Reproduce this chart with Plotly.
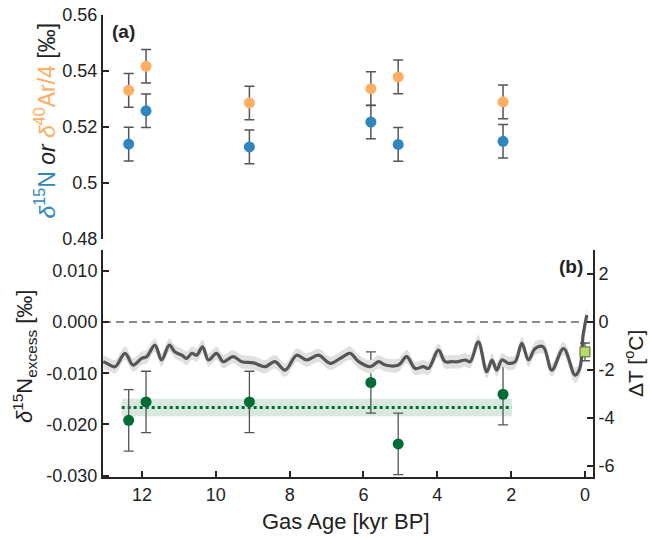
import plotly.graph_objects as go

# ---- data ----
gas_age = [12.36, 11.89, 9.09, 5.80, 5.06, 2.22]
d15N = [0.5139, 0.5258, 0.5129, 0.5218, 0.5138, 0.5149]
d15N_err = [0.006, 0.006, 0.006, 0.006, 0.006, 0.006]
d40Ar4 = [0.5331, 0.5417, 0.5286, 0.5337, 0.5379, 0.5290]
d40Ar4_err = [0.006, 0.006, 0.006, 0.006, 0.006, 0.006]

excess = [-0.0192, -0.0156, -0.0156, -0.0118, -0.0238, -0.0141]
excess_err = [0.006, 0.006, 0.006, 0.006, 0.006, 0.006]

mean_age = [12.55, 1.98]
mean_excess = [-0.0167, -0.0167]
mean_upper = [-0.0150, -0.0150]
mean_lower = [-0.0184, -0.0184]

dT_age = [13.05, 12.95, 12.73, 12.46, 12.24, 12.01, 11.87, 11.65, 11.47, 11.26, 11.11,
          10.92, 10.79, 10.65, 10.52, 10.36, 10.20, 9.98, 9.80, 9.53, 9.30, 8.98, 8.67,
          8.40, 8.12, 7.81, 7.54, 7.22, 6.90, 6.63, 6.49, 6.36, 6.13, 5.81, 5.59, 5.41,
          5.05, 4.83, 4.60, 4.38, 4.24, 3.97, 3.79, 3.61, 3.43, 3.25, 3.11, 2.89, 2.66,
          2.52, 2.39, 2.25, 2.07, 1.89, 1.71, 1.53, 1.35, 1.13, 0.90, 0.58, 0.27, 0.14,
          0.05, -0.05]
dT = [-1.65, -1.72, -1.86, -1.30, -1.79, -1.51, -1.44, -0.96, -1.58, -0.96, -1.24,
      -1.38, -1.51, -1.30, -1.38, -1.03, -1.58, -1.30, -1.65, -1.44, -1.65, -1.70, -1.86,
      -1.65, -2.00, -1.38, -1.58, -1.38, -1.72, -1.51, -1.38, -1.30, -1.65, -1.86, -1.65,
      -1.79, -1.79, -1.44, -1.93, -1.86, -1.93, -1.17, -1.65, -1.65, -1.65, -1.58, -1.65,
      -0.82, -2.07, -1.58, -2.00, -1.58, -1.72, -1.65, -0.89, -1.58, -1.10, -1.03, -2.00,
      -1.10, -2.21, -1.93, -0.54, 0.29]
dT_sigma = [0.28, 0.28, 0.28, 0.28, 0.28, 0.28, 0.28, 0.28, 0.28, 0.28, 0.28,
            0.28, 0.28, 0.28, 0.28, 0.28, 0.28, 0.28, 0.28, 0.28, 0.28, 0.28, 0.28,
            0.28, 0.28, 0.28, 0.28, 0.28, 0.28, 0.28, 0.28, 0.28, 0.28, 0.28, 0.28,
            0.28, 0.28, 0.28, 0.28, 0.28, 0.28, 0.28, 0.28, 0.28, 0.28, 0.28, 0.28,
            0.28, 0.28, 0.28, 0.28, 0.28, 0.28, 0.28, 0.28, 0.28, 0.28, 0.28, 0.28,
            0.28, 0.32, 0.32, 0.32, 0.32]

modern_age = [0.0]
modern_dT = [-1.24]
modern_err = [0.37]

top_ticks = [0.48, 0.50, 0.52, 0.54, 0.56]
top_ticktext = ["0.48", "0.5", "0.52", "0.54", "0.56"]
exc_ticks = [-0.03, -0.02, -0.01, 0.0, 0.01]
exc_ticktext = ["-0.030", "-0.020", "-0.010", "0.000", "0.010"]
dT_ticks = [-6, -4, -2, 0, 2]
dT_ticktext = ["-6", "-4", "-2", "0", "2"]
age_ticks = [12, 10, 8, 6, 4, 2, 0]

BLUE = "#2e86c1"
ORANGE = "#fdae61"
GREEN = "#006d32"
AXC = "#262626"
TXT = "#222222"
FONT = "Liberation Sans"

fig = go.Figure()

# top panel
fig.add_trace(go.Scatter(x=gas_age, y=d15N, mode="markers", xaxis="x2", yaxis="y2",
                         marker=dict(color=BLUE, size=11),
                         error_y=dict(type="data", array=d15N_err, color="#555555",
                                      thickness=1.5, width=5)))
fig.add_trace(go.Scatter(x=gas_age, y=d40Ar4, mode="markers", xaxis="x2", yaxis="y2",
                         marker=dict(color=ORANGE, size=11),
                         error_y=dict(type="data", array=d40Ar4_err, color="#555555",
                                      thickness=1.5, width=5)))

# bottom panel: temperature band and line (right axis)
dT_up = [v + s for v, s in zip(dT, dT_sigma)]
dT_lo = [v - s for v, s in zip(dT, dT_sigma)]
fig.add_trace(go.Scatter(x=dT_age, y=dT_up, mode="lines", yaxis="y3",
                         line=dict(width=0, color="#dcdcdc", shape="spline"),
                         hoverinfo="skip"))
fig.add_trace(go.Scatter(x=dT_age, y=dT_lo, mode="lines", yaxis="y3", fill="tonexty",
                         fillcolor="#e0e0e0",
                         line=dict(width=0, color="#dcdcdc", shape="spline"),
                         hoverinfo="skip"))
fig.add_trace(go.Scatter(x=dT_age, y=dT, mode="lines", yaxis="y3",
                         line=dict(color="#555555", width=3.2, shape="spline")))

# mean excess band
fig.add_trace(go.Scatter(x=mean_age, y=mean_upper, mode="lines", xaxis="x", yaxis="y",
                         line=dict(width=0), hoverinfo="skip"))
fig.add_trace(go.Scatter(x=mean_age, y=mean_lower, mode="lines", xaxis="x", yaxis="y",
                         fill="tonexty", fillcolor="rgba(0,109,50,0.15)",
                         line=dict(width=0), hoverinfo="skip"))
fig.add_trace(go.Scatter(x=mean_age, y=mean_excess, mode="lines", xaxis="x", yaxis="y",
                         line=dict(color=GREEN, width=3, dash="dot")))

# excess points
fig.add_trace(go.Scatter(x=gas_age, y=excess, mode="markers", xaxis="x", yaxis="y",
                         marker=dict(color=GREEN, size=11),
                         error_y=dict(type="data", array=excess_err, color="#555555",
                                      thickness=1.3, width=5)))

# modern temperature square
fig.add_trace(go.Scatter(x=modern_age, y=modern_dT, mode="markers", yaxis="y3",
                         marker=dict(color="#b5dc6b", size=10, symbol="square",
                                     line=dict(color="#556b2f", width=1)),
                         error_y=dict(type="data", array=modern_err, color="#555555",
                                      thickness=1.3, width=5)))

axis_common = dict(showgrid=False, zeroline=False, showline=True, linecolor=AXC,
                   linewidth=2, ticks="inside", ticklen=6, tickwidth=1.5, tickcolor=AXC,
                   automargin=False,
                   tickfont=dict(family=FONT, size=18, color=TXT))

TFONT = dict(family=FONT, size=22, color=TXT)

fig.update_layout(
    width=650, height=538,
    margin=dict(l=103, r=57, t=15, b=61),
    paper_bgcolor="white", plot_bgcolor="white",
    showlegend=False,
    font=dict(family=FONT, size=18, color=TXT),
    xaxis=dict(domain=[0, 1], anchor="y", range=[13.056, -0.217],
               tickvals=age_ticks, **axis_common),
    xaxis2=dict(domain=[0, 1], anchor="y2", matches="x", visible=False),
    yaxis=dict(domain=[0, 0.491], anchor="x", range=[-0.03027, 0.01406],
               tickvals=exc_ticks, ticktext=exc_ticktext, **axis_common),
    yaxis3=dict(overlaying="y", side="right", anchor="x", range=[-6.458, 3.0],
                tickvals=dT_ticks, ticktext=dT_ticktext, **axis_common),
    yaxis2=dict(domain=[0.515, 1], anchor="x2", range=[0.48, 0.56],
                tickvals=top_ticks, ticktext=top_ticktext, **axis_common),
    shapes=[dict(type="line", xref="x domain", yref="y", x0=0, x1=1, y0=0, y1=0,
                 line=dict(color="#666666", width=1.5, dash="8px,5px"), layer="below")],
    annotations=[
        dict(text="<b>(a)</b>", xref="paper", yref="paper", x=0.0143, y=0.965,
             xanchor="left", yanchor="middle", showarrow=False,
             font=dict(family=FONT, size=19, color=TXT)),
        dict(text="<b>(b)</b>", xref="paper", yref="paper", x=0.9837, y=0.455,
             xanchor="right", yanchor="middle", showarrow=False,
             font=dict(family=FONT, size=19, color=TXT)),
        dict(text="Gas Age [kyr BP]", xref="paper", yref="paper", x=0.496, y=-0.097,
             xanchor="center", yanchor="middle", showarrow=False, font=TFONT),
        dict(text=("<span style='color:%s'><i>δ</i><sup>15</sup>N</span> "
                   "<i>or</i> <span style='color:%s'><i>δ</i><sup>40</sup>Ar/4</span>"
                   " [‰]") % (BLUE, ORANGE),
             xref="paper", yref="paper", x=-0.118, y=0.772, textangle=-90,
             xanchor="center", yanchor="middle", showarrow=False,
             font=dict(family=FONT, size=23, color=TXT)),
        dict(text="<i>δ</i><sup>15</sup>N<sub>excess</sub> [‰]",
             xref="paper", yref="paper", x=-0.159, y=0.262, textangle=-90,
             xanchor="center", yanchor="middle", showarrow=False, font=TFONT),
        dict(text="ΔT [<sup>o</sup>C]",
             xref="paper", yref="paper", x=1.084, y=0.245, textangle=-90,
             xanchor="center", yanchor="middle", showarrow=False,
             font=dict(family=FONT, size=21, color=TXT)),
    ],
)

fig.write_html("out.html", config={"displayModeBar": False},
               post_script="document.body.style.margin='0';document.body.style.overflow='hidden';")
